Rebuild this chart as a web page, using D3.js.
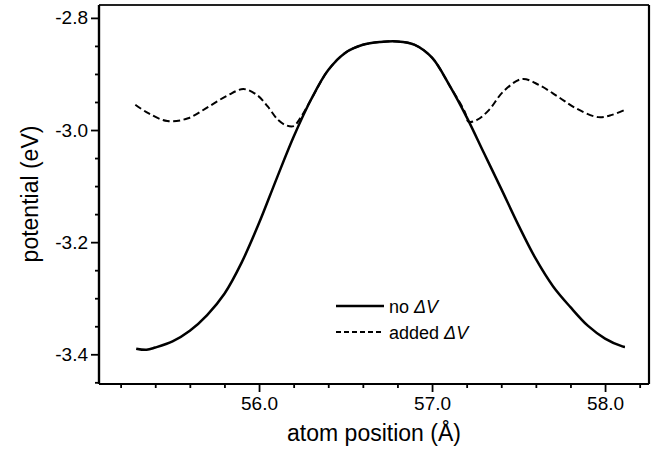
<!DOCTYPE html>
<html>
<head>
<meta charset="utf-8">
<script src="https://cdn.jsdelivr.net/npm/d3@7"></script>
<style>
  html, body { margin: 0; padding: 0; background: #fff; }
  svg { display: block; font-family: "Liberation Sans", Arial, sans-serif; }
</style>
</head>
<body>
<svg id="chart" width="659" height="455"></svg>
<script>
// Atom position (Å) and potential (eV) without the extra term
const noDvX = [55.29, 55.35, 55.4, 55.5, 55.6, 55.7, 55.8, 55.9, 56.0, 56.1, 56.2, 56.3, 56.4, 56.5, 56.6, 56.7, 56.8, 56.9, 57.0, 57.1, 57.2, 57.3, 57.4, 57.5, 57.6, 57.7, 57.8, 57.9, 58.0, 58.1, 58.115];
const noDvY = [-3.390, -3.392, -3.388, -3.377, -3.358, -3.330, -3.292, -3.236, -3.166, -3.088, -3.012, -2.946, -2.893, -2.862, -2.848, -2.843, -2.842, -2.848, -2.871, -2.920, -2.977, -3.041, -3.105, -3.170, -3.230, -3.279, -3.316, -3.349, -3.372, -3.386, -3.387];

// Potential with ΔV added (coincides with the bare curve over the barrier top)
const addDvX = [55.285, 55.36, 55.47, 55.59, 55.71, 55.82, 55.91, 55.99, 56.05, 56.11, 56.16, 56.2, 56.24, 56.3, 56.4, 56.5, 56.6, 56.7, 56.8, 56.9, 57.0, 57.1, 57.19, 57.21, 57.26, 57.33, 57.41, 57.52, 57.62, 57.73, 57.83, 57.96, 58.04, 58.115];
const addDvY = [-2.955, -2.970, -2.984, -2.979, -2.958, -2.938, -2.927, -2.938, -2.958, -2.982, -2.992, -2.993, -2.978, -2.946, -2.893, -2.862, -2.848, -2.843, -2.842, -2.848, -2.871, -2.920, -2.968, -2.985, -2.982, -2.964, -2.932, -2.909, -2.920, -2.941, -2.961, -2.977, -2.973, -2.964];

const xMajor = [56.0, 57.0, 58.0];
const xMinor = [55.2, 55.4, 55.6, 55.8, 56.2, 56.4, 56.6, 56.8, 57.2, 57.4, 57.6, 57.8, 58.2];
const yMajor = [-3.4, -3.2, -3.0, -2.8];
const yMinor = [-3.45, -3.35, -3.3, -3.25, -3.15, -3.1, -3.05, -2.95, -2.9, -2.85];

const seriesNames = ["no ", "added "];

const svg = d3.select("#chart");
const mLeft = 99, mRight = 649, mTop = 5, mBottom = 384;

const x = d3.scaleLinear().domain([55.075, 58.254]).range([mLeft, mRight]);
const y = d3.scaleLinear().domain([-3.453, -2.777]).range([mBottom, mTop]);

// plain hyphen for negative tick labels
const fmt = d => d.toFixed(1);

// Curves
const line = d3.line().x(d => x(d[0])).y(d => y(d[1])).curve(d3.curveCatmullRom.alpha(0.5));
const addData = d3.zip(addDvX, addDvY);
const noData = d3.zip(noDvX, noDvY);

svg.append("path")
  .attr("d", line(addData))
  .attr("fill", "none")
  .attr("stroke", "#000")
  .attr("stroke-width", 2)
  .attr("stroke-dasharray", "7,3.5");

svg.append("path")
  .attr("d", line(noData))
  .attr("fill", "none")
  .attr("stroke", "#000")
  .attr("stroke-width", 2.5);

// Frame
svg.append("line").attr("x1", mLeft).attr("x2", mRight).attr("y1", mTop).attr("y2", mTop)
  .attr("stroke", "#222").attr("stroke-width", 2);
svg.append("line").attr("x1", mRight).attr("x2", mRight).attr("y1", mTop).attr("y2", mBottom)
  .attr("stroke", "#000").attr("stroke-width", 2.2);

// Bottom axis
const gx = svg.append("g").attr("transform", `translate(0,${mBottom})`);
gx.call(d3.axisBottom(x).tickValues(xMinor).tickSize(4).tickFormat(""));
const gxMaj = svg.append("g").attr("transform", `translate(0,${mBottom})`);
gxMaj.call(d3.axisBottom(x).tickValues(xMajor).tickSize(8).tickPadding(5).tickFormat(fmt));

// Left axis
const gy = svg.append("g").attr("transform", `translate(${mLeft},0)`);
gy.call(d3.axisLeft(y).tickValues(yMinor).tickSize(4).tickFormat(""));
const gyMaj = svg.append("g").attr("transform", `translate(${mLeft},0)`);
gyMaj.call(d3.axisLeft(y).tickValues(yMajor).tickSize(8).tickPadding(3).tickFormat(fmt));

svg.selectAll(".domain").attr("stroke", "#000").attr("stroke-width", 2.2);
gx.select(".domain").attr("d", `M${mLeft},0H${mRight}`);
gxMaj.select(".domain").attr("d", `M${mLeft},0H${mRight}`);
gy.select(".domain").attr("d", `M0,${mBottom}V${mTop}`);
gyMaj.select(".domain").attr("d", `M0,${mBottom}V${mTop}`);

svg.selectAll(".tick line").attr("stroke", "#000").attr("stroke-width", 1.8);
svg.selectAll(".tick text")
  .attr("fill", "#000")
  .style("font-family", "'Liberation Sans', Arial, sans-serif")
  .style("font-size", "19px");

// Axis titles
svg.append("text")
  .attr("x", (mLeft + mRight) / 2)
  .attr("y", 441)
  .attr("text-anchor", "middle")
  .style("font-size", "23px")
  .text("atom position (Å)");

svg.append("text")
  .attr("transform", "translate(38,194) rotate(-90)")
  .attr("text-anchor", "middle")
  .style("font-size", "23px")
  .text("potential (eV)");

// Legend
const legend = svg.append("g");
const legendRows = [
  { name: seriesNames[0], y: 306, dash: null, w: 2.5 },
  { name: seriesNames[1], y: 332, dash: "5,3", w: 1.8 }
];
legendRows.forEach(r => {
  legend.append("line")
    .attr("x1", 336).attr("x2", 384)
    .attr("y1", r.y).attr("y2", r.y)
    .attr("stroke", "#000").attr("stroke-width", r.w)
    .attr("stroke-dasharray", r.dash);
  const t = legend.append("text")
    .attr("x", 389).attr("y", r.y + 6.5)
    .style("font-size", "18px");
  t.append("tspan").text(r.name);
  t.append("tspan").style("font-style", "italic").text("ΔV");
});
</script>
</body>
</html>
